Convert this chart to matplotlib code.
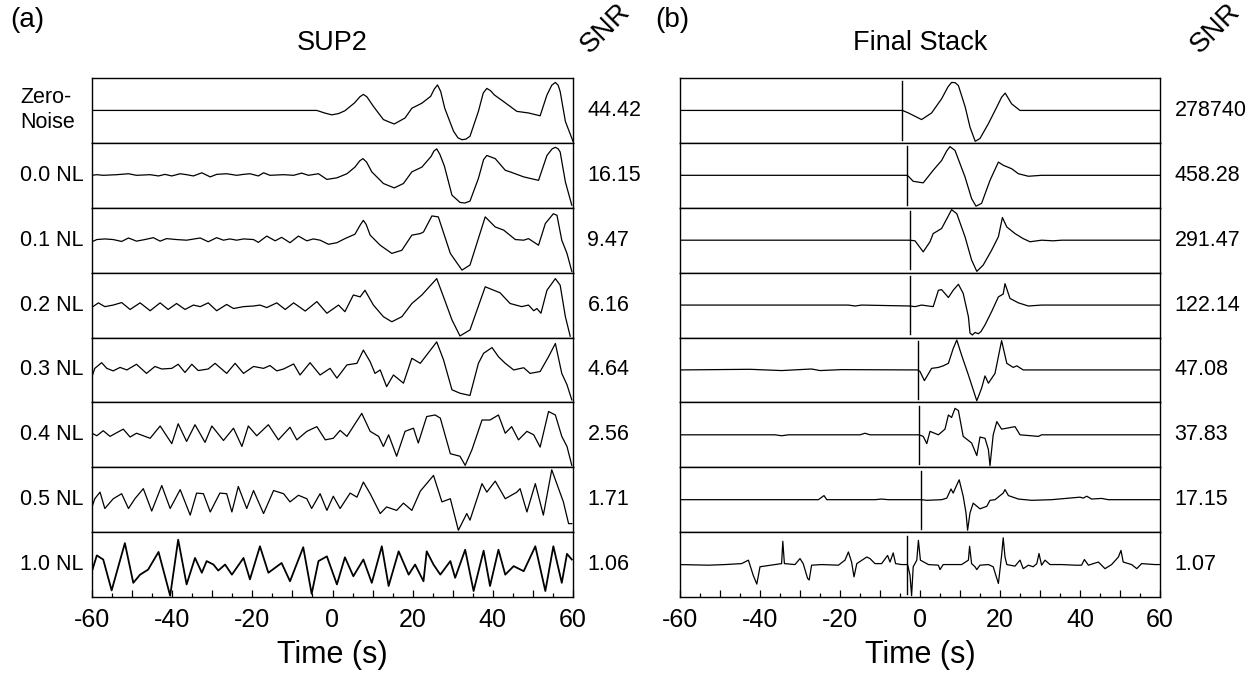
import matplotlib.pyplot as plt
import matplotlib.transforms as mtransforms
import numpy as np

plt.rcParams['font.family'] = 'Liberation Sans'

# ---------------------------------------------------------------------------
# Data (time in s, amplitude normalised to half a row)
# ---------------------------------------------------------------------------
row_labels = ['Zero-\nNoise', '0.0 NL', '0.1 NL', '0.2 NL', '0.3 NL', '0.4 NL', '0.5 NL', '1.0 NL']
snr_sup2 = ['44.42', '16.15', '9.47', '6.16', '4.64', '2.56', '1.71', '1.06']
snr_stack = ['278740', '458.28', '291.47', '122.14', '47.08', '37.83', '17.15', '1.07']

# SUP2 traces
sup2_zero_t = [-60, -3.9, -2.0, -0.2, 1.5, 3.1, 5.5, 6.8, 7.7, 8.6, 10.2, 12.7, 14.0, 15.4, 18.1, 19.8, 22.3,
               24.5, 25.4, 26.2, 27.0, 28.0, 30.2, 31.3, 32.3, 33.3, 34.3, 36.4, 37.6, 38.5, 39.4, 40.4, 42.7,
               46.0, 48.9, 51.8, 53.5, 54.7, 55.6, 56.3, 56.8, 58.1, 60]
sup2_zero_a = [0, 0, -0.08, -0.14, -0.10, -0.01, 0.24, 0.43, 0.51, 0.43, 0.13, -0.29, -0.36, -0.43, -0.24, 0.07, 0.23,
               0.45, 0.68, 0.81, 0.60, 0.07, -0.66, -0.87, -0.93, -0.91, -0.82, -0.03, 0.55, 0.70, 0.63, 0.49, 0.28,
               -0.03, -0.08, -0.17, 0.49, 0.80, 0.89, 0.80, 0.60, -0.35, -0.98]

sup2_00_t = [-60, -58.8, -57.2, -53.8, -50.9, -48.9, -45.5, -43.4, -41.8, -40.1, -38.0, -36.4, -34.7, -32.6,
             -30.5, -28.9, -26.4, -23.9, -22.2, -20.6, -18.5, -17.2, -15.6, -12.2, -9.7, -7.7, -6.0, -3.5,
             -1.4, 1.1, 3.6, 5.6, 6.8, 7.6, 8.5, 9.8, 12.7, 15.4, 17.7, 19.8, 22.3, 24.6, 25.3, 26.0, 26.8, 27.9,
             29.8, 31.8, 33.0, 34.3, 36.4, 37.7, 38.5, 40.6, 43.1, 44.3, 47.7, 51.4, 53.5, 54.8, 55.6, 56.3, 56.8,
             58.1, 59.7]
sup2_00_a = [0, 0.02, 0, 0.02, 0.05, 0, 0.02, -0.02, 0.03, -0.02, 0.05, 0.02, -0.02, 0.08,
             -0.05, 0.03, 0.05, 0, 0.03, 0.05, -0.02, 0.08, 0, 0.02, 0, 0.07, 0, 0.05,
             -0.13, -0.08, 0.05, 0.26, 0.46, 0.53, 0.42, 0.11, -0.26, -0.40, -0.26, 0.11, 0.26, 0.60, 0.77, 0.84,
             0.66, 0.30, -0.63, -0.86, -0.88, -0.82, -0.10, 0.50, 0.63, 0.53, 0.16, 0.11, -0.05, -0.16, 0.63, 0.84,
             0.89, 0.84, 0.74, -0.21, -0.95]

sup2_01_t = [-60, -58.8, -56.8, -54.7, -52.6, -50.9, -48.9, -46.8, -44.7, -43.0, -41.4, -38.9, -36.4, -33.0,
             -31.0, -28.9, -27.2, -25.6, -23.9, -22.2, -19.7, -18.5, -16.4, -14.3, -12.7, -10.6, -8.5, -6.4,
             -4.8, -3.1, -1.0, 1.1, 3.1, 5.6, 7.0, 7.7, 8.4, 9.4, 11.9, 14.8, 17.3, 19.8, 21.9, 22.7, 24.8, 26.4,
             29.4, 32.3, 34.3, 38.1, 40.6, 42.7, 45.6, 47.7, 48.9, 51.4, 53.1, 55.1, 56.0, 57.2, 58.5, 59.7]
sup2_01_a = [-0.05, 0.02, 0.04, 0.02, -0.04, 0.07, -0.03, 0.02, 0.08, -0.03, 0.05, 0.02, 0, 0.07,
             -0.05, 0.08, 0, 0.04, 0, 0.04, 0.02, -0.07, 0.13, -0.02, 0.09, -0.08, 0.13, -0.02,
             0.04, 0, -0.13, -0.08, 0.05, 0.19, 0.50, 0.63, 0.50, 0.16, -0.16, -0.42, -0.32, 0.16, 0.21, 0.26, 0.77, 0.74,
             -0.42, -0.95, -0.79, 0.74, 0.42, 0.32, 0.02, 0, 0.05, -0.16, 0.53, 0.84, 0.79, 0, -0.42, -0.99]

sup2_02_t = [-60, -58.4, -56.8, -54.7, -52.6, -50.5, -48.0, -45.5, -43.0, -41.0, -38.9, -36.8, -34.7, -33.0,
             -31.0, -28.9, -26.4, -24.7, -22.2, -19.7, -18.1, -16.4, -13.9, -11.8, -9.7, -6.8, -3.9, -1.4,
             1.5, 3.1, 5.2, 6.9, 8.1, 10.2, 12.7, 14.8, 17.3, 19.8, 22.3, 26.0, 27.7, 29.8, 31.8, 34.3,
             38.1, 41.8, 44.3, 47.2, 48.9, 50.2, 51.0, 52.0, 53.5, 55.6, 56.8, 58.1, 59.3]
sup2_02_a = [-0.07, 0.07, -0.05, 0, 0.08, -0.14, 0.07, -0.18, 0.07, -0.14, 0.05, -0.14, 0, -0.05,
             0.07, -0.18, 0.02, -0.11, -0.05, -0.03, 0, -0.08, 0.07, -0.14, 0.07, -0.19, 0.11, -0.26,
             0, -0.21, 0.32, 0.26, 0.47, 0, -0.37, -0.53, -0.37, 0.05, 0.32, 0.84, 0.26, -0.47, -0.98, -0.79,
             0.58, 0.39, 0.05, -0.05, 0, -0.18, -0.11, -0.26, 0.47, 0.84, 0.63, -0.37, -0.99]

sup2_03_t = [-60, -59.3, -57.6, -56.3, -54.7, -53.0, -51.3, -48.9, -46.4, -44.3, -42.6, -40.1, -38.5, -36.8,
             -35.1, -33.5, -31.0, -29.3, -26.4, -24.3, -22.2, -19.7, -17.2, -15.6, -13.9, -12.2, -9.7, -8.1,
             -5.6, -3.1, -0.6, 1.1, 3.6, 6.1, 7.7, 9.4, 10.6, 11.9, 13.5, 15.2, 17.7, 19.8, 21.9, 26.0,
             27.7, 29.8, 31.8, 34.3, 36.4, 37.7, 39.8, 41.4, 43.1, 45.2, 47.7, 49.3, 51.8, 53.9, 55.6, 57.2,
             58.5, 59.7]
sup2_03_a = [-0.21, 0.05, 0.23, 0.05, -0.03, 0.08, 0, 0.18, -0.11, 0.11, 0.03, 0.05, 0.18, -0.08,
             0.18, -0.02, 0.03, 0.21, -0.11, 0.21, -0.11, 0.11, 0.05, 0.14, -0.03, 0.03, 0.19, -0.16,
             0.23, -0.16, 0.05, -0.26, 0.16, 0.21, 0.63, 0.26, -0.11, 0, -0.53, -0.16, -0.42, 0.37, 0.21, 0.89,
             0.32, -0.63, -0.74, -0.81, 0.21, 0.53, 0.71, 0.42, 0.21, 0, 0.07, -0.11, -0.05, 0.42, 0.84, -0.11,
             -0.47, -0.95]

sup2_04_t = [-60, -58.8, -57.2, -55.5, -52.2, -50.5, -48.9, -45.5, -43.0, -40.1, -38.5, -36.4, -34.3, -31.8,
             -30.1, -27.2, -24.7, -22.6, -21.0, -18.9, -16.0, -13.5, -10.6, -8.9, -6.4, -3.9, -1.8, 0.2,
             1.9, 3.6, 7.3, 9.4, 11.5, 12.7, 14.0, 16.0, 18.1, 20.2, 21.4, 23.5, 25.6, 26.9, 29.4, 31.8,
             33.1, 34.8, 37.3, 39.3, 41.4, 43.1, 44.7, 46.4, 48.5, 50.2, 51.8, 53.9, 55.6, 57.2, 58.5, 59.7]
sup2_04_a = [0.05, -0.03, 0.13, -0.05, 0.18, -0.07, 0.05, -0.11, 0.28, -0.28, 0.35, -0.21, 0.32, -0.24,
             0.28, -0.18, 0.21, -0.37, 0.28, -0.03, 0.32, -0.16, 0.24, -0.16, 0.11, 0.26, -0.16, -0.11,
             0.14, -0.05, 0.68, 0.11, -0.05, -0.37, 0, -0.68, 0.11, 0.21, -0.26, 0.58, 0.63, 0.53, -0.60, -0.68,
             -0.97, -0.47, 0.47, 0.47, 0.63, 0.05, 0.26, -0.16, 0.11, 0, -0.39, 0.74, 0.63, -0.05, -0.37, -0.97]

sup2_05_t = [-60, -59.3, -58.0, -56.8, -54.7, -52.6, -50.9, -49.3, -47.2, -45.1, -42.6, -40.5, -38.0, -35.5,
             -33.9, -32.2, -30.5, -28.1, -26.4, -25.1, -23.5, -21.4, -19.7, -17.2, -14.7, -12.2, -10.6, -8.5,
             -6.4, -5.2, -3.1, -1.4, 0.2, 1.9, 4.4, 6.1, 7.7, 9.4, 11.9, 13.5, 16.0, 17.7, 19.8, 21.9,
             25.2, 27.3, 29.4, 31.4, 33.5, 34.3, 37.3, 38.5, 40.6, 43.1, 46.0, 46.8, 48.5, 50.6, 52.6, 54.7,
             57.6, 58.9, 59.7]
sup2_05_a = [-0.23, 0.03, 0.24, -0.28, 0.03, 0.19, -0.28, 0.03, 0.35, -0.36, 0.45, -0.28, 0.32, -0.49,
             0.21, 0.19, -0.39, 0.21, 0.19, -0.39, 0.42, -0.28, 0.29, -0.44, 0.29, 0.19, -0.07, 0.14,
             0.03, -0.28, 0.19, -0.34, 0.11, -0.28, 0.21, 0.08, 0.56, 0.19, -0.44, -0.23, -0.34, -0.11, -0.34, 0.27,
             0.77, -0.07, 0.03, -0.97, -0.44, -0.65, 0.51, 0.24, 0.59, 0.03, 0.24, 0.35, -0.39, 0.51, -0.49, 0.95,
             -0.07, -0.76, -0.76]

sup2_10_t = [-60, -58.8, -57.2, -55.1, -51.8, -49.7, -48.0, -46.0, -43.4, -40.5, -38.5, -36.4, -34.3, -32.6,
             -31.4, -29.7, -28.5, -26.8, -25.1, -22.2, -20.6, -18.1, -16.0, -12.7, -10.6, -7.3, -5.2, -3.5,
             -1.4, 1.1, 3.1, 5.2, 7.7, 9.8, 12.3, 14.0, 16.5, 19.0, 20.6, 22.7, 23.5, 25.2, 26.9, 29.4,
             30.6, 33.1, 35.2, 37.7, 39.3, 41.4, 43.1, 45.2, 47.7, 50.6, 53.1, 55.1, 57.2, 58.5, 59.7]
sup2_10_a = [-0.21, 0.29, 0.16, -0.82, 0.68, -0.58, -0.32, -0.16, 0.40, -0.99, 0.79, -0.63, 0.21, -0.26,
             0.11, 0, -0.19, 0, -0.32, 0.21, -0.47, 0.58, -0.26, 0.05, -0.53, 0.55, -0.93, 0.11,
             0.26, -0.63, 0.23, -0.37, 0.16, -0.58, 0.58, -0.68, 0.42, -0.32, 0, -0.53, 0.42, 0, -0.32, 0.11,
             -0.42, 0.47, -0.84, 0.44, -0.68, 0.47, -0.32, -0.05, -0.21, 0.58, -0.84, 0.58, -0.58, 0.34, 0.16]

# Final stack traces
stack_zero_t = [-60, -4.4, -2.9, 0.4, 2.9, 5.4, 7.0, 7.9, 8.8, 9.6, 11.3, 12.5, 13.8, 15.0, 17.1, 19.2,
                20.4, 21.3, 22.1, 22.9, 25.0, 60]
stack_zero_a = [0, 0, -0.08, -0.29, -0.08, 0.37, 0.75, 0.89, 0.88, 0.79, 0.11, -0.53, -0.98, -0.89, -0.42, 0.11,
                0.42, 0.55, 0.38, 0.21, 0, 0]

stack_00_t = [-60, -3.3, -2.9, -1.7, 0.8, 3.3, 5.4, 6.7, 7.5, 8.75, 11.25, 12.9, 14.0, 15.4, 17.5, 19.6, 20.8,
              22.9, 24.6, 27.1, 30.4, 60]
stack_00_a = [0, 0, -0.03, -0.19, -0.24, 0.16, 0.47, 0.78, 0.91, 0.79, -0.05, -0.74, -0.98, -0.89, -0.16, 0.42, 0.32,
              0.21, 0.05, -0.03, 0, 0]

stack_01_t = [-60, -2.5, -1.25, 0.8, 2.5, 3.3, 5.4, 6.7, 7.9, 9.2, 11.25, 12.9, 14.2, 15.8, 17.9, 19.6,
              20.6, 21.7, 23.75, 25.8, 27.5, 30.4, 33.3, 35.4, 60]
stack_01_a = [0, 0, -0.02, -0.37, -0.05, 0.21, 0.37, 0.68, 0.97, 0.84, 0.11, -0.63, -0.99, -0.79, -0.32, 0.11,
              0.72, 0.42, 0.21, 0.05, -0.05, 0, -0.02, 0, 0]

stack_02_t = [-60, -17.9, -16.25, -14.6, -2.5, -1.25, 0.4, 2.1, 3.3, 4.6, 5.4, 7.1, 8.3, 9.6, 10.8, 12.1,
              12.5, 13.1, 13.75, 14.6, 15.25, 16.25, 17.9, 19.6, 20.8, 21.25, 22.5, 24.6, 27.1, 30.4, 60]
stack_02_a = [0, 0, -0.03, 0, -0.03, -0.05, 0, -0.03, -0.05, 0.47, 0.49, 0.24, 0.47, 0.66, 0.37, -0.37,
              -0.89, -0.95, -0.87, -0.91, -0.84, -0.63, -0.21, 0.26, 0.35, 0.68, 0.21, 0.07, -0.03, 0, 0]

stack_03_t = [-60, -42.5, -34.6, -27.1, -25.0, -19.6, -0.6, 0, 1.1, 2.9, 4.6, 5.8, 7.1, 8.3, 9.2, 10.4,
              12.1, 14.2, 15.4, 16.25, 17.1, 18.75, 20.4, 21.7, 23.3, 24.2, 25.8, 60]
stack_03_a = [0, 0.02, -0.02, 0.03, -0.02, 0.01, 0, -0.05, -0.34, 0.05, 0.08, 0.13, 0.21, 0.68, 0.95, 0.47,
              -0.16, -0.98, -0.58, -0.19, -0.42, -0.11, 0.93, 0.21, 0.08, 0.13, 0, 0]

stack_04_t = [-60, -36.25, -34.6, -32.9, -15.0, -13.75, -12.5, -0.25, 0.8, 1.7, 2.5, 4.6, 6.25, 7.1, 7.9,
              8.75, 9.6, 10.8, 12.9, 14.2, 15.0, 16.25, 17.1, 17.5, 18.3, 19.2, 20.4, 21.7, 23.75, 25.0,
              29.6, 30.4, 60]
stack_04_a = [0, 0, -0.03, 0, 0, 0.05, 0, 0, -0.05, -0.28, 0.11, 0, 0.18, 0.63, 0.55,
              0.84, 0.77, -0.05, -0.26, -0.66, -0.07, -0.11, -0.47, -0.98, 0, 0.42, 0.18, 0.21, 0.26, 0,
              -0.05, 0, 0]

stack_05_t = [-60, -25.4, -24.0, -23.3, -11.25, -9.6, -7.9, 0.4, 1.7, 5.4, 6.7, 7.75, 8.3, 9.2, 9.8, 10.8,
              11.5, 11.9, 12.5, 13.3, 15.0, 16.7, 17.5, 18.75, 20.8, 21.25, 22.1, 24.6, 27.9, 32.9, 40.0,
              40.8, 41.7, 42.9, 45.4, 47.1, 60]
stack_05_a = [0, 0, 0.13, 0, 0, 0.02, 0, 0, -0.02, 0, 0.05, 0.34, 0.21, 0.47, 0.63, 0.11,
              -0.42, -0.97, -0.42, -0.11, -0.29, -0.21, -0.02, 0, 0.21, 0.32, 0.13, 0.02, -0.02, 0, 0.08,
              0.05, 0.11, 0.02, 0.04, 0, 0]

stack_10_t = [-60, -52.9, -48.75, -44.6, -42.9, -41.7, -40.8, -40.0, -36.25, -34.6, -34.3, -33.9, -31.25,
              -30.0, -29.2, -28.1, -27.7, -27.1, -24.6, -20.4, -18.75, -17.9, -17.1, -16.5, -15.8, -13.3,
              -12.5, -11.25, -9.6, -8.1, -7.5, -6.7, -6.1, -4.6, -3.1, -2.5, -2.1, -1.7, -0.8, -0.4, 0.1,
              2.1, 4.6, 5.0, 5.8, 10.4, 12.1, 12.4, 12.9, 13.75, 14.2, 15.0, 17.1, 18.3, 19.6, 20.4, 20.8,
              21.25, 21.7, 23.75, 25.0, 25.8, 27.1, 28.3, 29.2, 29.75, 30.4, 31.25, 32.5, 35.4, 38.75,
              40.4, 41.1, 42.1, 44.6, 46.25, 47.9, 49.6, 50.25, 50.8, 52.9, 54.2, 55.4, 58.75, 60]
stack_10_a = [0, -0.02, 0, 0.03, 0.14, -0.34, -0.62, -0.07, 0, 0.03, 0.74, 0.03, 0,
              0.19, 0.03, -0.44, -0.49, -0.02, 0, -0.02, 0.14, 0.40, 0.08, -0.39, 0.03, 0.24,
              0.19, 0.03, 0.03, 0.29, 0.08, 0.37, 0.03, 0, 0, -0.34, -0.99, -0.07, 0.14, 0.77, 0.14,
              0, -0.02, -0.16, 0, 0, 0.14, 0.58, 0.03, -0.07, -0.16, -0.02, 0, -0.07, -0.60, 0.29, 0.85,
              0.24, 0, -0.05, 0.14, -0.13, -0.02, -0.07, 0.03, 0.35, -0.02, 0.14, 0, 0, -0.02,
              -0.02, 0.16, -0.02, 0.08, -0.13, 0, 0.24, 0.45, 0.08, 0, -0.13, 0.03, 0, 0]

# picked onset marker of each final stack (s)
stack_markers = [-4.4, -3.3, -2.5, -2.5, -0.6, -0.25, 0.25, -3.3]

sup2_traces = [(sup2_zero_t, sup2_zero_a), (sup2_00_t, sup2_00_a), (sup2_01_t, sup2_01_a),
               (sup2_02_t, sup2_02_a), (sup2_03_t, sup2_03_a), (sup2_04_t, sup2_04_a),
               (sup2_05_t, sup2_05_a), (sup2_10_t, sup2_10_a)]
stack_traces = [(stack_zero_t, stack_zero_a), (stack_00_t, stack_00_a), (stack_01_t, stack_01_a),
                (stack_02_t, stack_02_a), (stack_03_t, stack_03_a), (stack_04_t, stack_04_a),
                (stack_05_t, stack_05_a), (stack_10_t, stack_10_a)]

# ---------------------------------------------------------------------------
W, H = 1255, 681
fig = plt.figure(figsize=(W / 100, H / 100), dpi=100)

top = 1 - 78 / H
bottom = 1 - 597 / H
panels = [
    (92 / W, 573 / W, sup2_traces, None, snr_sup2, 'SUP2'),
    (680 / W, 1160 / W, stack_traces, stack_markers, snr_stack, 'Final Stack'),
]

for p, (left, right, traces, markers, snrs, title) in enumerate(panels):
    gs = fig.add_gridspec(8, 1, left=left, right=right, top=top, bottom=bottom, hspace=0)
    for i, (t, a) in enumerate(traces):
        ax = fig.add_subplot(gs[i, 0])
        lw = 1.3 if (i == 7 and p == 0) else 0.9
        ax.plot(t, a, color='black', lw=lw, solid_joinstyle='round')
        if markers is not None:
            ax.plot([markers[i], markers[i]], [-0.93, 0.92], color='black', lw=1.0)
        ax.set_xlim(-60, 60)
        ax.set_ylim(-1.03, 1.03)
        ax.set_yticks([])
        for s in ax.spines.values():
            s.set_linewidth(1.0)
        if i < 7:
            ax.set_xticks([])
        else:
            ax.set_xticks(np.arange(-60, 61, 10))
            ax.set_xticklabels([str(v) if v % 20 == 0 else '' for v in range(-60, 61, 10)], fontsize=18)
            ax.set_xticks(np.arange(-60, 61, 5), minor=True)
            ax.tick_params(axis='x', which='major', direction='in', length=5, width=0.9, pad=8)
            ax.tick_params(axis='x', which='minor', direction='in', length=3, width=0.9)
            ax.set_xlabel('Time (s)', fontsize=22, labelpad=6)
        # SNR value to the right of each row
        ax.text(1.03, 0.5, snrs[i], transform=ax.transAxes,
                fontsize=15.5, ha='left', va='center')
        if p == 0:
            trans = mtransforms.blended_transform_factory(fig.transFigure, ax.transAxes)
            ax.text(20 / W, 0.5, row_labels[i], transform=trans,
                    fontsize=15.5, ha='left', va='center', linespacing=1.25)
    cx = (left + right) / 2
    fig.text(cx, 1 - 43 / H, title, fontsize=19.5, ha='center', va='center')

fig.text(10 / W, 1 - 20 / H, '(a)', fontsize=20, ha='left', va='center')
fig.text(655 / W, 1 - 20 / H, '(b)', fontsize=20, ha='left', va='center')
fig.text(605 / W, 1 - 28 / H, 'SNR', fontsize=20, rotation=45, ha='center', va='center')
fig.text(1215 / W, 1 - 28 / H, 'SNR', fontsize=20, rotation=45, ha='center', va='center')

fig.savefig('out.png', dpi=100)
